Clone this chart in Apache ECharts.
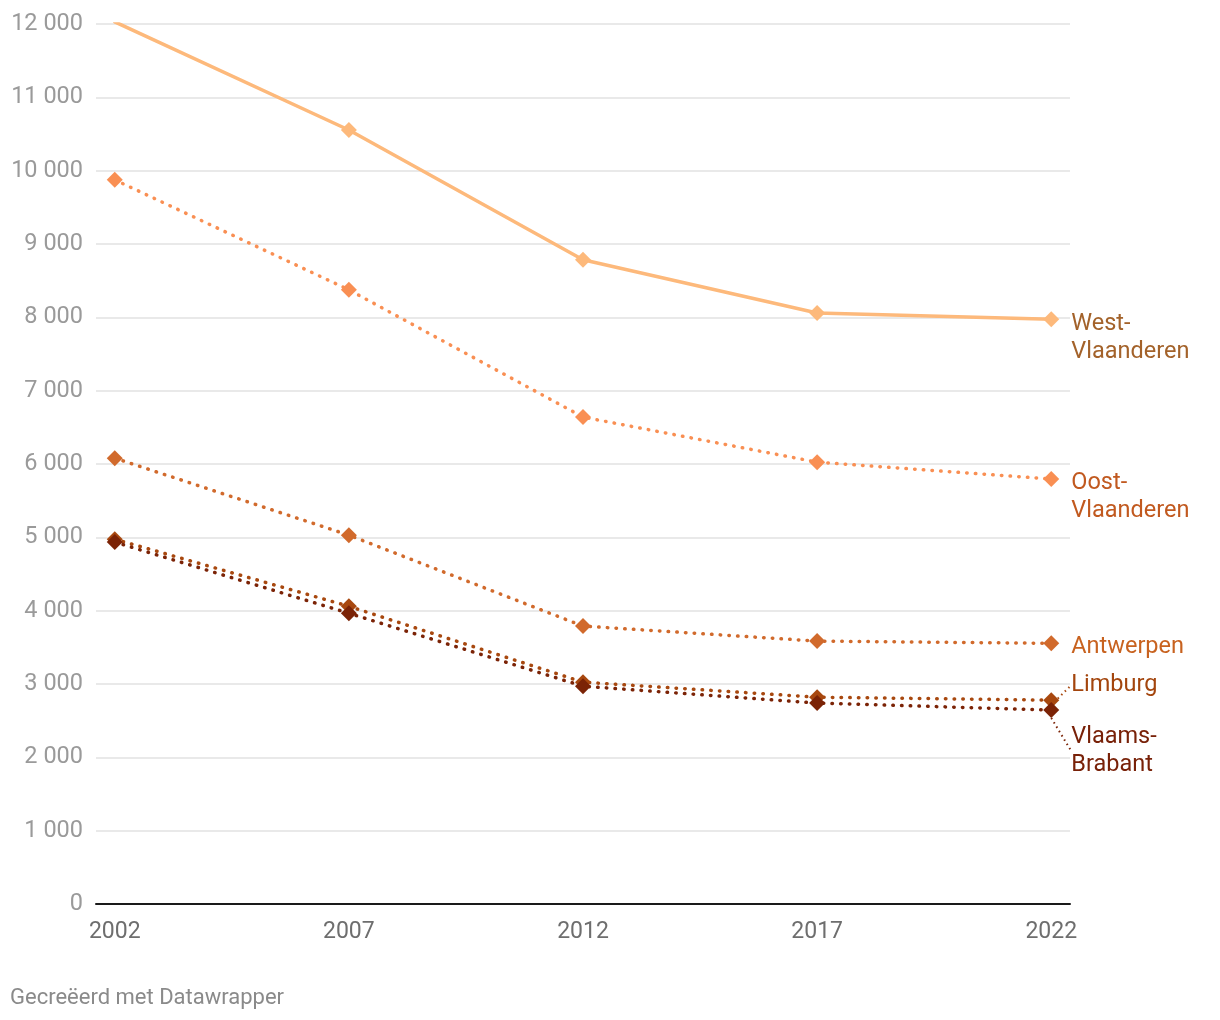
<!DOCTYPE html>
<html>
<head>
<meta charset="utf-8">
<script src="https://cdn.jsdelivr.net/npm/echarts@6/dist/echarts.min.js"></script>
<style>
html,body{margin:0;padding:0;background:#fff;}
#c{width:1220px;height:1020px;}
</style>
</head>
<body>
<div id="c"></div>
<script>
const years = [2002, 2007, 2012, 2017, 2022];
const yTicks = [0, 1000, 2000, 3000, 4000, 5000, 6000, 7000, 8000, 9000, 10000, 11000, 12000];
const seriesNames = ['West-Vlaanderen', 'Oost-Vlaanderen', 'Antwerpen', 'Limburg', 'Vlaams-Brabant'];
const labelTexts = ['West-\nVlaanderen', 'Oost-\nVlaanderen', 'Antwerpen', 'Limburg', 'Vlaams-\nBrabant'];
const westVlaanderen = [12030, 10555, 8785, 8060, 7975];
const oostVlaanderen = [9875, 8375, 6640, 6025, 5795];
const antwerpen = [6080, 5030, 3790, 3585, 3555];
const limburg = [4975, 4060, 3025, 2820, 2780];
const vlaamsBrabant = [4935, 3965, 2970, 2740, 2645];

const values = [westVlaanderen, oostVlaanderen, antwerpen, limburg, vlaamsBrabant];
const lineColors = ['#fdb97b', '#f98f53', '#d16a2c', '#a8480f', '#7b2306'];
const labelColors = ['#a3622a', '#c1591f', '#c8621f', '#a3450d', '#782108'];
const lineTypes = ['solid', 'dotted', 'dotted', 'dotted', 'dotted'];
const labelPos = [[28, -1], [28, -2], [28, -2.5], [28, -21], [28, 21]];
const showGuide = [false, false, false, true, true];

const diamond = 'path://M0,-1 L1,0 L0,1 L-1,0 Z';

const series = seriesNames.map((name, i) => ({
  name: name,
  type: 'line',
  symbol: diamond,
  symbolSize: 16,
  z: 2 + i,
  itemStyle: { color: lineColors[i] },
  lineStyle: {
    color: lineColors[i],
    width: 3.5,
    type: lineTypes[i] === 'solid' ? 'solid' : [0.5, 8.2],
    cap: 'round'
  },
  labelLine: {
    show: showGuide[i],
    lineStyle: { color: lineColors[i], width: 2, type: [1.5, 3.5] }
  },
  data: values[i].map((v, j) => {
    const d = { value: [years[j], v] };
    if (j === years.length - 1) {
      d.label = {
        show: true,
        position: labelPos[i],
        align: 'left',
        verticalAlign: 'top',
        formatter: labelTexts[i],
        color: labelColors[i],
        fontFamily: 'Roboto',
        fontSize: 23.5,
        lineHeight: 28
      };
      d.labelLine = { show: showGuide[i] };
    }
    return d;
  }),
  animation: false
}));

const chart = echarts.init(document.getElementById('c'));
chart.setOption({
  animation: false,
  grid: { left: 96, right: 150, top: 24, bottom: 116, containLabel: false },
  xAxis: {
    type: 'value',
    min: 2001.6,
    max: 2022.4,
    axisLine: { show: true, onZero: false, lineStyle: { color: '#1a1a1a', width: 2 } },
    axisTick: { show: false },
    splitLine: { show: false },
    axisLabel: {
      customValues: years,
      formatter: v => String(v),
      color: '#6e6e6e',
      fontFamily: 'Roboto',
      fontSize: 23,
      margin: 17
    }
  },
  yAxis: {
    type: 'value',
    min: yTicks[0],
    max: yTicks[yTicks.length - 1],
    interval: 1000,
    axisLine: { show: false },
    axisTick: { show: false },
    splitLine: { show: true, lineStyle: { color: '#e2e2e2', width: 1.5 } },
    axisLabel: {
      formatter: v => String(v).replace(/\B(?=(\d{3})+(?!\d))/g, ' '),
      color: '#9a9a9a',
      fontFamily: 'Roboto',
      fontSize: 23.5,
      margin: 13
    }
  },
  graphic: [{
    type: 'text',
    left: 10,
    top: 987,
    style: {
      text: 'Gecreëerd met Datawrapper',
      fill: '#8a8a8a',
      font: '22px Roboto'
    }
  }],
  series: series
});
</script>
</body>
</html>
